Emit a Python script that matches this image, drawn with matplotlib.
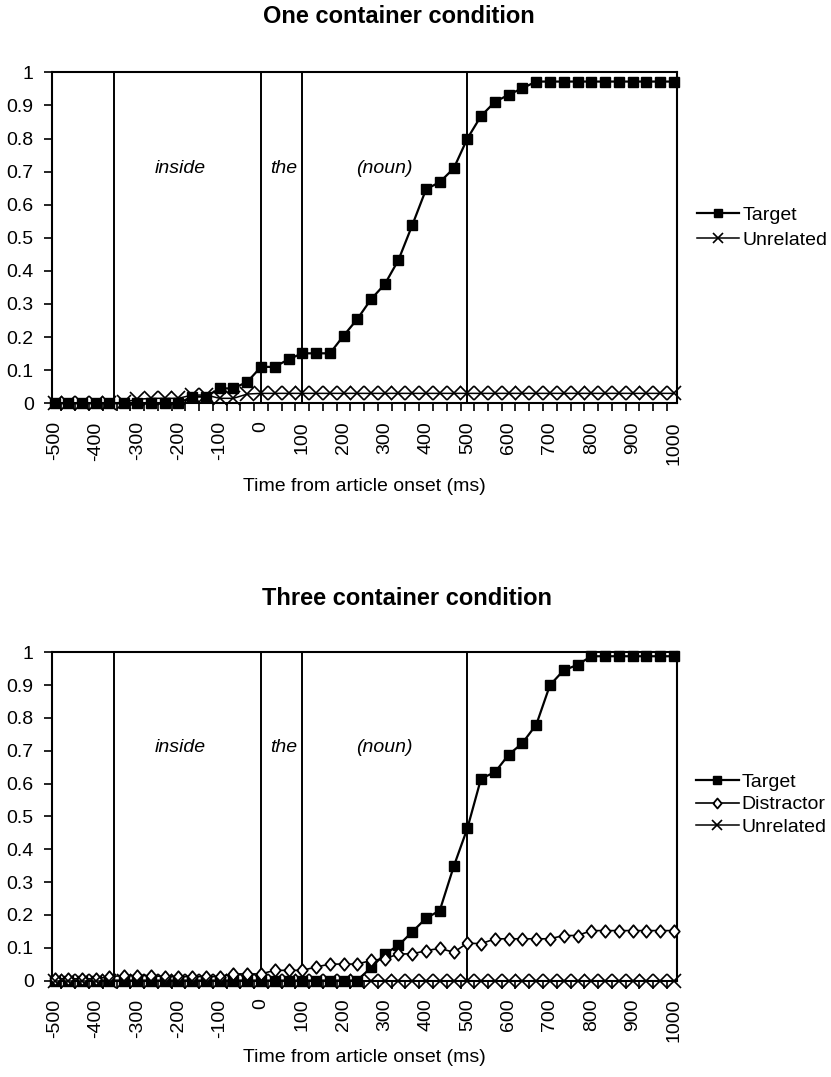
import matplotlib
matplotlib.use("Agg")
import matplotlib.pyplot as plt

plt.rcParams['font.family'] = ['Liberation Sans', 'DejaVu Sans']

# ---- data ----
times = [-500, -467, -433, -400, -367, -333, -300, -267, -233, -200, -167, -133,
         -100, -67, -33, 0, 33, 67, 100, 133, 167, 200, 233, 267, 300, 333, 367,
         400, 433, 467, 500, 533, 567, 600, 633, 667, 700, 733, 767, 800, 833,
         867, 900, 933, 967, 1000]
tick_values = [-500, -400, -300, -200, -100, 0, 100, 200, 300, 400, 500, 600,
               700, 800, 900, 1000]

one_target = [0, 0, 0, 0, 0, 0, 0, 0, 0, 0, 0.02, 0.02, 0.045, 0.045, 0.065,
              0.11, 0.11, 0.133, 0.151, 0.151, 0.151, 0.204, 0.254, 0.315, 0.36,
              0.433, 0.54, 0.647, 0.668, 0.71, 0.80, 0.868, 0.911, 0.932, 0.952,
              0.972, 0.972, 0.972, 0.972, 0.972, 0.972, 0.972, 0.972, 0.972,
              0.972, 0.972]
one_unrelated = [0, 0, 0, 0, 0, 0.003, 0.012, 0.015, 0.015, 0.015, 0.025, 0.025,
                 0.015, 0.015, 0.028, 0.03, 0.03, 0.03, 0.03, 0.03, 0.03, 0.03,
                 0.03, 0.03, 0.03, 0.03, 0.03, 0.03, 0.03, 0.03, 0.03, 0.03,
                 0.03, 0.03, 0.03, 0.03, 0.03, 0.03, 0.03, 0.03, 0.03, 0.03,
                 0.03, 0.03, 0.03, 0.03]

three_target = [0, 0, 0, 0, 0, 0, 0, 0, 0, 0, 0, 0, 0, 0, 0, 0, 0, 0, 0, 0, 0,
                0, 0, 0.04, 0.081, 0.107, 0.149, 0.19, 0.213, 0.348, 0.464,
                0.615, 0.635, 0.688, 0.723, 0.78, 0.90, 0.945, 0.962, 0.988,
                0.988, 0.988, 0.988, 0.988, 0.988, 0.988]
three_distractor = [0.005, 0.005, 0.005, 0.005, 0.012, 0.015, 0.015, 0.015,
                    0.012, 0.012, 0.012, 0.012, 0.012, 0.02, 0.02, 0.02, 0.031,
                    0.031, 0.031, 0.041, 0.05, 0.05, 0.05, 0.061, 0.066, 0.081,
                    0.081, 0.091, 0.098, 0.086, 0.114, 0.112, 0.127, 0.127,
                    0.127, 0.127, 0.127, 0.137, 0.137, 0.152, 0.152, 0.152,
                    0.152, 0.152, 0.152, 0.152]
three_unrelated = [0] * 46

word_bounds = [-355, 0, 100, 500]
word_labels = ["inside", "the", "(noun)"]
word_x = [-195, 55, 298]

# ---- figure ----
W, H = 831, 1077
fig = plt.figure(figsize=(W / 100, H / 100), dpi=100)

def px_axes(l, t, r, b):
    return fig.add_axes([l / W, 1 - b / H, (r - l) / W, (b - t) / H])

diamond = [(-0.42, 0), (0, 0.5), (0.42, 0), (0, -0.5), (-0.42, 0)]
FS = 14

def style_axis(ax, xlabel_y_px, ax_bottom_px, ax_h_px):
    ax.set_xlim(-507, 1007)
    ax.set_ylim(0, 1)
    ax.set_yticks([i / 10 for i in range(11)])
    ax.set_yticklabels(["0"] + ["0.%d" % i for i in range(1, 10)] + ["1"], fontsize=FS)
    ax.tick_params(axis='y', direction='out', length=6, width=1.2, pad=7)
    ax.set_xticks(tick_values)
    ax.set_xticklabels([str(v) for v in tick_values], rotation=90, fontsize=FS)
    ax.tick_params(axis='x', which='major', length=0, pad=13)
    mids = [(times[i] + times[i + 1]) / 2 for i in range(len(times) - 1)]
    ax.set_xticks(mids, minor=True)
    ax.tick_params(axis='x', which='minor', direction='out', length=6, width=1.2)
    for s in ax.spines.values():
        s.set_linewidth(1.5)
        s.set_color('black')
    for b in word_bounds:
        ax.axvline(b, color='black', lw=1.4, zorder=1)
    for lab, x in zip(word_labels, word_x):
        ax.text(x, 0.71, lab, ha='center', va='center', fontsize=FS, style='italic')
    ax.text(0.5, -(xlabel_y_px - ax_bottom_px) / ax_h_px, "Time from article onset (ms)",
            transform=ax.transAxes, ha='center', va='center', fontsize=FS)

# top
ax1 = px_axes(51.7, 72.3, 676.7, 403.3)
style_axis(ax1, 486.7, 403.3, 331.0)
ax1.plot(times, one_target, color='black', lw=1.6, marker='s', ms=7.2,
         mfc='black', mec='black', clip_on=False, zorder=3, label='Target')
ax1.plot(times, one_unrelated, color='black', lw=1.1, marker='x', ms=9.4,
         mew=1.2, clip_on=False, zorder=4, label='Unrelated')
ax1.legend(loc='center left', bbox_to_anchor=(696.7 / W, 1 - 227.5 / H),
           bbox_transform=fig.transFigure, frameon=False, fontsize=FS,
           borderpad=0, borderaxespad=0, handlelength=2.2, handletextpad=0.15,
           labelspacing=0.4, markerscale=0.8)
fig.text(399 / W, 1 - 16.7 / H, "One container condition", ha='center',
         va='center', fontsize=17, fontweight='bold')

# bottom
ax2 = px_axes(51.7, 652.3, 676.7, 980.5)
style_axis(ax2, 1058, 980.5, 328.2)
ax2.plot(times, three_target, color='black', lw=1.6, marker='s', ms=7.2,
         mfc='black', mec='black', clip_on=False, zorder=3, label='Target')
ax2.plot(times, three_distractor, color='black', lw=1.2, marker=diamond, ms=9,
         mfc='white', mec='black', mew=1.3, clip_on=False, zorder=4, label='Distractor')
ax2.plot(times, three_unrelated, color='black', lw=1.1, marker='x', ms=9.4,
         mew=1.2, clip_on=False, zorder=5, label='Unrelated')
ax2.legend(loc='center left', bbox_to_anchor=(696 / W, 1 - 804.5 / H),
           bbox_transform=fig.transFigure, frameon=False, fontsize=FS,
           borderpad=0, borderaxespad=0, handlelength=2.2, handletextpad=0.15,
           labelspacing=0.25, markerscale=0.8)
fig.text(406.7 / W, 1 - 598.3 / H, "Three container condition", ha='center',
         va='center', fontsize=17, fontweight='bold')

fig.savefig("out.png", dpi=100)
